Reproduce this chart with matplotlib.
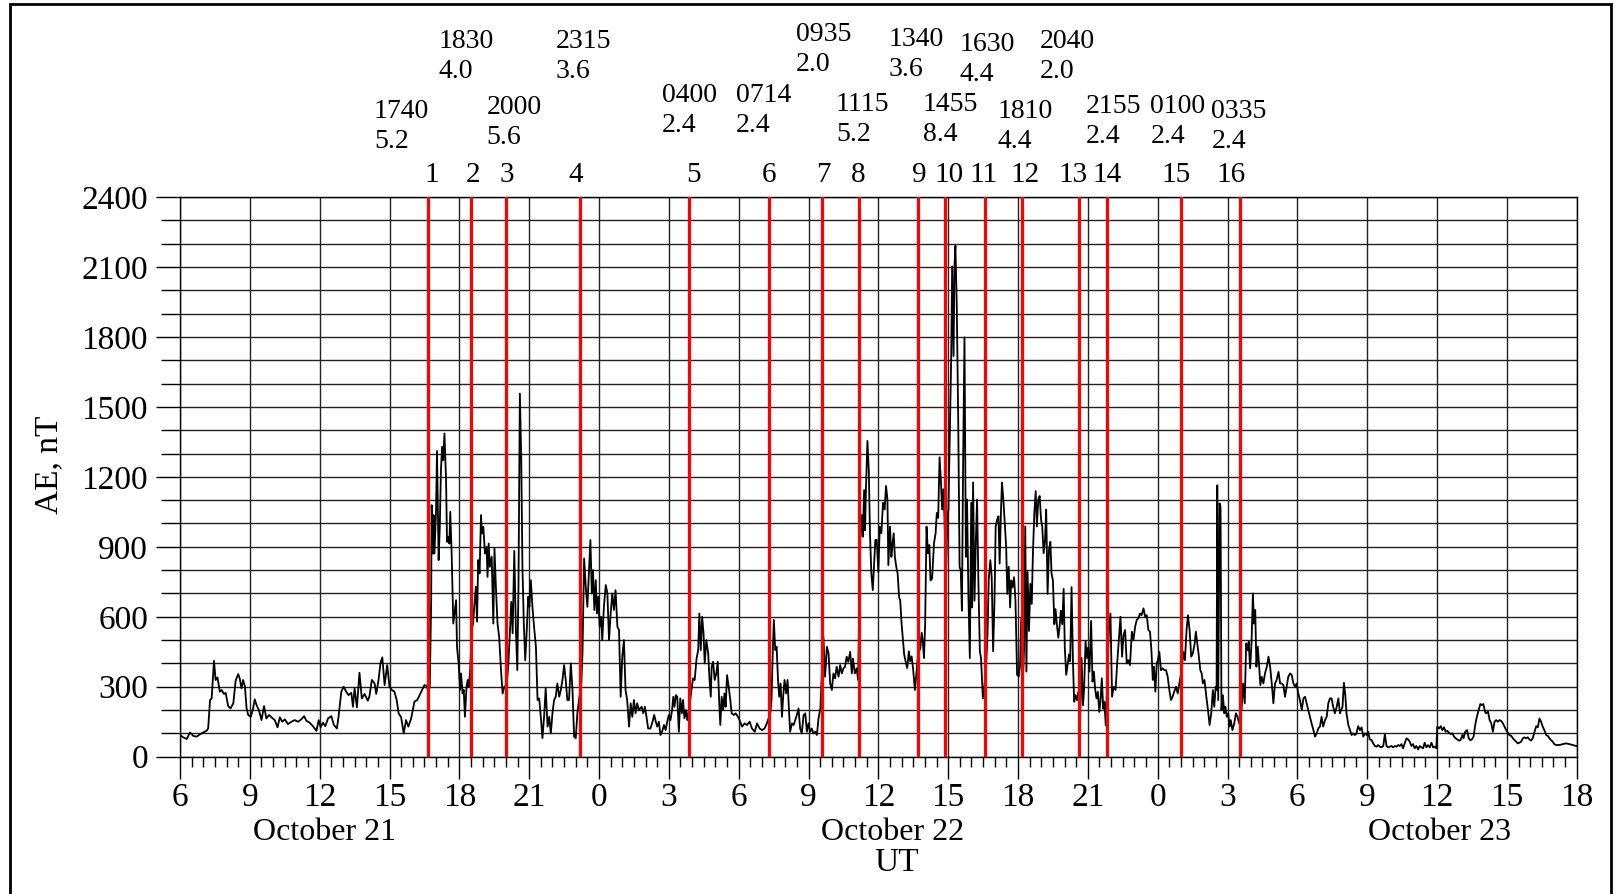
import matplotlib
matplotlib.use("Agg")
import matplotlib.pyplot as plt
from matplotlib.ticker import MultipleLocator, FixedLocator
from matplotlib.transforms import blended_transform_factory
from matplotlib.patches import Rectangle

# AE index, (hour of day UT, nT)
oct21 = [(6.00, 93), (6.14, 83), (6.29, 76), (6.43, 104), (6.57, 89), (6.71, 86), (6.86, 96), (7.00, 104),
         (7.14, 111), (7.21, 121), (7.29, 243), (7.36, 250), (7.46, 411), (7.53, 329), (7.61, 340), (7.71, 279),
         (7.79, 286), (7.89, 269), (7.96, 274), (8.07, 217), (8.17, 207), (8.29, 229), (8.39, 326), (8.50, 354),
         (8.57, 334), (8.64, 293), (8.71, 329), (8.79, 300), (8.86, 207), (8.93, 179), (9.04, 171), (9.14, 207),
         (9.21, 246), (9.29, 221), (9.39, 200), (9.50, 157), (9.61, 217), (9.71, 164), (9.83, 179), (9.93, 169),
         (10.07, 157), (10.19, 126), (10.29, 169), (10.39, 150), (10.50, 160), (10.64, 140), (10.79, 150),
         (10.93, 157), (11.07, 150), (11.21, 160), (11.33, 174), (11.43, 154), (11.57, 146), (11.71, 131),
         (11.86, 111), (11.96, 157), (12.04, 126), (12.14, 146), (12.24, 131), (12.36, 164), (12.50, 174),
         (12.61, 136), (12.74, 121), (12.81, 171), (12.93, 279), (13.03, 300), (13.14, 279), (13.24, 264),
         (13.36, 274), (13.43, 214), (13.50, 293), (13.60, 211), (13.71, 360), (13.81, 250), (13.93, 269),
         (14.07, 240), (14.14, 260), (14.24, 329), (14.36, 314), (14.43, 269), (14.53, 329), (14.61, 400),
         (14.69, 426), (14.79, 307), (14.90, 393), (15.00, 300), (15.10, 286), (15.21, 279), (15.31, 243),
         (15.39, 186), (15.50, 169), (15.61, 100), (15.71, 157), (15.81, 129), (15.93, 164),
         (16.07, 236), (16.19, 243), (16.29, 264), (16.39, 286), (16.50, 307), (16.60, 303), (16.67, 279),
         (16.73, 300), (16.79, 671), (16.81, 1079), (16.87, 871), (16.90, 1036), (16.93, 871), (17.00, 1057),
         (17.04, 1311), (17.11, 843), (17.16, 986), (17.21, 1229), (17.26, 1329), (17.31, 1271), (17.36, 1386),
         (17.43, 1186), (17.47, 921), (17.53, 943), (17.57, 914), (17.61, 1050), (17.67, 871), (17.74, 571),
         (17.79, 614), (17.86, 671), (17.90, 471), (17.97, 400), (18.03, 286), (18.07, 357), (18.14, 271),
         (18.19, 286), (18.24, 171), (18.31, 300), (18.36, 329), (18.40, 300), (18.46, 357), (18.53, 543),
         (18.59, 571), (18.64, 643), (18.71, 729), (18.76, 579), (18.81, 843), (18.87, 786), (18.93, 1036),
         (18.97, 957), (19.03, 986), (19.10, 871), (19.17, 900), (19.21, 771), (19.26, 914), (19.31, 814),
         (19.39, 857), (19.46, 571), (19.51, 893), (19.57, 729), (19.64, 571), (19.71, 514), (19.79, 371),
         (19.86, 271), (19.93, 300), (20.03, 307), (20.10, 386), (20.17, 529), (20.23, 664), (20.29, 529),
         (20.36, 883), (20.43, 543), (20.49, 371), (20.54, 729), (20.60, 1557), (20.66, 1271), (20.71, 814),
         (20.77, 571), (20.83, 414), (20.89, 529), (20.96, 686), (21.01, 643), (21.07, 757), (21.14, 643),
         (21.21, 557), (21.29, 471), (21.36, 243), (21.43, 250), (21.50, 171), (21.57, 79), (21.64, 171),
         (21.71, 293), (21.79, 129), (21.86, 171), (21.93, 100), (22.00, 186), (22.07, 243), (22.14, 257),
         (22.21, 314), (22.29, 257), (22.36, 286), (22.43, 329), (22.50, 393), (22.57, 329), (22.64, 243),
         (22.71, 243), (22.79, 400), (22.86, 286), (22.93, 86), (23.00, 79), (23.07, 186), (23.14, 243),
         (23.24, 314), (23.29, 443), (23.36, 850), (23.43, 729), (23.50, 643), (23.57, 800), (23.63, 929),
         (23.69, 700), (23.74, 800), (23.80, 629), (23.86, 757), (23.91, 614), (23.97, 686)]

oct22 = [(0.03, 557), (0.09, 600), (0.14, 500), (0.21, 643), (0.29, 736), (0.36, 700), (0.43, 500), (0.50, 614),
         (0.57, 700), (0.64, 629), (0.71, 714), (0.79, 557), (0.86, 543), (0.93, 257), (1.00, 429), (1.07, 500),
         (1.14, 286), (1.21, 243), (1.29, 129), (1.36, 229), (1.43, 171), (1.50, 243), (1.57, 186), (1.64, 229),
         (1.71, 200), (1.83, 214), (1.90, 186), (1.97, 214), (2.04, 171), (2.11, 121), (2.21, 121), (2.30, 150),
         (2.37, 179), (2.44, 150), (2.50, 129), (2.57, 150), (2.64, 93), (2.71, 107), (2.79, 136), (2.86, 114),
         (2.93, 150), (3.00, 179), (3.07, 157), (3.14, 200), (3.19, 257), (3.24, 214), (3.30, 264), (3.36, 257),
         (3.43, 107), (3.49, 250), (3.56, 186), (3.61, 243), (3.67, 164), (3.73, 200), (3.79, 157), (3.90, 229),
         (3.97, 286), (4.04, 336), (4.11, 329), (4.19, 421), (4.26, 457), (4.31, 614), (4.37, 457), (4.43, 600),
         (4.49, 529), (4.54, 400), (4.61, 500), (4.69, 443), (4.74, 343), (4.80, 257), (4.84, 386), (4.90, 407),
         (4.97, 329), (5.04, 357), (5.10, 407), (5.16, 243), (5.21, 136), (5.27, 257), (5.33, 200), (5.39, 271),
         (5.44, 214), (5.50, 350), (5.57, 300), (5.64, 243), (5.70, 186), (5.79, 179), (5.87, 186), (5.97, 171),
         (6.04, 157), (6.14, 129), (6.26, 143), (6.36, 136), (6.47, 150), (6.57, 121), (6.69, 107), (6.79, 143),
         (6.90, 121), (7.01, 114), (7.11, 121), (7.21, 143), (7.36, 186), (7.41, 243), (7.47, 471), (7.51, 586),
         (7.57, 457), (7.63, 471), (7.69, 329), (7.74, 257), (7.80, 314), (7.86, 171), (7.91, 257), (7.97, 329),
         (8.04, 271), (8.10, 329), (8.16, 200), (8.21, 107), (8.29, 143), (8.36, 136), (8.43, 157), (8.50, 179),
         (8.57, 207), (8.64, 121), (8.71, 100), (8.79, 179), (8.86, 186), (8.93, 107), (9.00, 143), (9.07, 107),
         (9.14, 121), (9.21, 100), (9.29, 107), (9.36, 93), (9.43, 164), (9.51, 207), (9.64, 514), (9.71, 343),
         (9.79, 471), (9.86, 443), (9.93, 314), (10.00, 286), (10.07, 357), (10.14, 336), (10.21, 386),
         (10.29, 343), (10.36, 393), (10.43, 357), (10.50, 379), (10.57, 386), (10.64, 429), (10.71, 407),
         (10.79, 450), (10.86, 357), (10.91, 421), (10.99, 357), (11.07, 379), (11.13, 329), (11.23, 957),
         (11.29, 1036), (11.33, 943), (11.39, 1143), (11.43, 971), (11.47, 1157), (11.53, 1354), (11.59, 1229),
         (11.64, 957), (11.70, 786), (11.76, 714), (11.81, 814), (11.87, 929), (11.93, 930), (12.00, 792),
         (12.06, 987), (12.13, 958), (12.20, 1089), (12.27, 1060), (12.33, 1161), (12.39, 1103), (12.43, 821),
         (12.50, 987), (12.56, 857), (12.60, 901), (12.66, 958), (12.71, 857), (12.77, 814), (12.83, 785),
         (12.89, 684), (12.94, 669), (13.00, 568), (13.06, 495), (13.11, 438), (13.17, 409), (13.24, 380),
         (13.31, 452), (13.37, 409), (13.43, 430), (13.49, 380), (13.57, 286), (13.63, 351), (13.74, 481),
         (13.80, 459), (13.86, 532), (13.91, 495), (13.96, 423), (14.01, 568), (14.07, 987), (14.13, 872),
         (14.19, 908), (14.24, 756), (14.31, 764), (14.39, 915), (14.46, 958), (14.51, 1045), (14.57, 1024),
         (14.63, 1284), (14.69, 1176), (14.74, 1060), (14.79, 1147), (14.84, 1031), (14.90, 741), (14.96, 1016),
         (15.01, 1060), (15.07, 1393), (15.13, 1711), (15.17, 2102), (15.23, 1718), (15.27, 2102), (15.31, 2191),
         (15.37, 1928), (15.43, 1450), (15.49, 814), (15.54, 799), (15.59, 626), (15.64, 1248), (15.70, 1798),
         (15.76, 857), (15.81, 1103), (15.87, 684), (15.93, 423), (15.99, 1089), (16.03, 640), (16.07, 1176),
         (16.13, 669), (16.19, 930), (16.24, 1103), (16.30, 741), (16.36, 452), (16.41, 423), (16.49, 250),
         (16.56, 307), (16.63, 394), (16.69, 524), (16.74, 756), (16.81, 843), (16.87, 770), (16.93, 452),
         (16.99, 669), (17.04, 987), (17.10, 1016), (17.16, 1031), (17.21, 828), (17.27, 1060), (17.31, 1176),
         (17.37, 1103), (17.43, 1002), (17.49, 901), (17.54, 698), (17.60, 814), (17.66, 640), (17.71, 756),
         (17.77, 727), (17.83, 770), (17.89, 669), (17.96, 351), (18.03, 344), (18.09, 394), (18.14, 597),
         (18.20, 293), (18.26, 467), (18.31, 987), (18.36, 365), (18.41, 792), (18.47, 539), (18.53, 741),
         (18.59, 655), (18.64, 872), (18.70, 1045), (18.76, 1139), (18.81, 987), (18.87, 1103), (18.93, 1118),
         (18.99, 1016), (19.04, 987), (19.10, 872), (19.16, 930), (19.21, 1060), (19.27, 698), (19.33, 886),
         (19.39, 922), (19.44, 785), (19.50, 756), (19.56, 568), (19.61, 633), (19.67, 568), (19.73, 510),
         (19.79, 561), (19.84, 626), (19.90, 568), (19.96, 720), (20.01, 467), (20.07, 351), (20.13, 394),
         (20.19, 438), (20.24, 409), (20.30, 727), (20.36, 409), (20.41, 235), (20.47, 264), (20.53, 242),
         (20.59, 278), (20.67, 163), (20.73, 423), (20.79, 221), (20.84, 293), (20.90, 495), (20.96, 423),
         (21.01, 467), (21.07, 365), (21.14, 582), (21.20, 322), (21.26, 365), (21.31, 293), (21.37, 250),
         (21.43, 278), (21.49, 192), (21.54, 235), (21.60, 336), (21.66, 206), (21.71, 235), (21.77, 134),
         (21.90, 536), (21.97, 614), (22.04, 257), (22.11, 300), (22.19, 286), (22.26, 400), (22.33, 500),
         (22.40, 600), (22.47, 429), (22.53, 521), (22.60, 543), (22.67, 400), (22.74, 414), (22.81, 393),
         (22.89, 536), (22.96, 500), (23.03, 557), (23.10, 586), (23.17, 593), (23.24, 614), (23.31, 607),
         (23.39, 636), (23.46, 600), (23.53, 607), (23.60, 543), (23.67, 536), (23.73, 457), (23.79, 329),
         (23.84, 386), (23.90, 279), (23.96, 400)]

oct23 = [(0.01, 414), (0.07, 450), (0.14, 371), (0.21, 379), (0.29, 371), (0.36, 371), (0.43, 343), (0.50, 286),
         (0.57, 243), (0.64, 257), (0.71, 279), (0.79, 300), (0.86, 271), (0.93, 314), (1.03, 371), (1.10, 450),
         (1.17, 414), (1.24, 543), (1.30, 607), (1.37, 543), (1.44, 429), (1.51, 443), (1.59, 486), (1.64, 536),
         (1.70, 486), (1.77, 429), (1.83, 371), (1.89, 357), (1.94, 314), (2.01, 329), (2.09, 257), (2.16, 200),
         (2.23, 136), (2.30, 186), (2.37, 286), (2.43, 214), (2.49, 300), (2.53, 286), (2.56, 1164), (2.60, 243),
         (2.66, 1086), (2.70, 1071), (2.74, 200), (2.80, 264), (2.86, 186), (2.91, 214), (2.97, 171), (3.03, 186),
         (3.09, 129), (3.14, 157), (3.21, 114), (3.29, 143), (3.36, 186), (3.43, 171), (3.50, 143), (3.60, 200),
         (3.67, 314), (3.74, 229), (3.80, 486), (3.86, 457), (3.91, 493), (3.97, 379), (4.03, 486), (4.09, 700),
         (4.14, 571), (4.19, 629), (4.24, 386), (4.30, 471), (4.36, 386), (4.41, 307), (4.47, 343), (4.54, 314),
         (4.61, 357), (4.69, 386), (4.76, 429), (4.83, 386), (4.90, 314), (4.97, 229), (5.04, 314), (5.11, 329),
         (5.19, 364), (5.26, 314), (5.33, 314), (5.40, 307), (5.47, 257), (5.54, 300), (5.61, 343), (5.69, 357),
         (5.76, 350), (5.83, 314), (5.90, 300), (5.97, 314), (6.04, 271), (6.11, 243), (6.19, 200), (6.26, 250),
         (6.33, 257), (6.40, 229), (6.47, 200), (6.54, 171), (6.61, 143), (6.69, 114), (6.76, 86), (6.83, 100),
         (6.90, 121), (6.97, 129), (7.04, 171), (7.11, 129), (7.19, 157), (7.26, 171), (7.33, 229), (7.40, 250),
         (7.47, 250), (7.54, 214), (7.61, 186), (7.69, 214), (7.76, 250), (7.83, 186), (7.94, 214), (8.00, 317),
         (8.06, 264), (8.11, 186), (8.19, 136), (8.26, 114), (8.33, 93), (8.40, 100), (8.47, 93), (8.54, 100),
         (8.61, 131), (8.69, 114), (8.76, 126), (8.83, 86), (8.90, 100), (8.97, 93), (9.04, 107), (9.11, 74),
         (9.19, 71), (9.26, 57), (9.33, 46), (9.40, 43), (9.47, 50), (9.54, 43), (9.61, 40), (9.69, 46),
         (9.76, 97), (9.83, 46), (9.90, 40), (9.97, 43), (10.04, 46), (10.11, 40), (10.19, 46), (10.26, 43),
         (10.33, 50), (10.40, 46), (10.47, 54), (10.54, 36), (10.61, 57), (10.69, 79), (10.76, 74), (10.83, 64),
         (10.90, 46), (10.97, 54), (11.04, 36), (11.11, 46), (11.19, 31), (11.26, 46), (11.33, 40), (11.40, 36),
         (11.47, 60), (11.54, 40), (11.61, 50), (11.69, 40), (11.76, 60), (11.83, 40), (11.90, 43), (11.97, 36),
         (12.01, 129), (12.09, 121), (12.16, 131), (12.23, 114), (12.30, 126), (12.37, 107), (12.44, 111),
         (12.51, 103), (12.59, 97), (12.66, 100), (12.73, 86), (12.80, 79), (12.87, 74), (12.94, 69), (13.01, 71),
         (13.09, 93), (13.14, 79), (13.21, 107), (13.29, 114), (13.36, 79), (13.43, 71), (13.50, 74), (13.57, 86),
         (13.64, 136), (13.71, 171), (13.79, 200), (13.86, 226), (13.93, 221), (13.99, 226), (14.06, 193),
         (14.11, 186), (14.19, 193), (14.26, 157), (14.33, 143), (14.40, 107), (14.47, 150), (14.54, 157),
         (14.61, 150), (14.69, 157), (14.76, 153), (14.83, 143), (14.90, 129), (14.97, 114), (15.04, 103),
         (15.11, 93), (15.19, 89), (15.26, 79), (15.33, 71), (15.40, 64), (15.47, 57), (15.54, 60), (15.61, 64),
         (15.69, 79), (15.76, 83), (15.83, 79), (15.90, 83), (15.97, 74), (16.04, 69), (16.11, 79), (16.19, 107),
         (16.26, 131), (16.33, 126), (16.40, 164), (16.47, 150), (16.54, 129), (16.61, 114), (16.69, 93),
         (16.76, 89), (16.83, 79), (16.90, 71), (16.97, 64), (17.04, 54), (17.11, 50), (17.26, 50), (17.40, 54),
         (17.54, 57), (17.69, 54), (17.83, 50), (17.97, 46), (18.00, 46)]

# events: red line positions (hours since Oct 21 00 UT) and their labels
event_hours = [16.64, 18.50, 20.00, 23.20, 27.87, 31.29, 33.57, 35.17,
               37.69, 38.87, 40.57, 42.17, 44.63, 45.84, 49.00, 51.54]
event_num = [str(i) for i in range(1, 17)]
event_time = ['1740', '1830', '2000', '2315', '0400', '0714', '0935', '1115',
              '1340', '1455', '1630', '1810', '2040', '2155', '0100', '0335']
event_val = ['5.2', '4.0', '5.6', '3.6', '2.4', '2.4', '2.0', '5.2',
             '3.6', '8.4', '4.4', '4.4', '2.0', '2.4', '2.4', '2.4']

# where the labels sit (x in hours, y in axes fraction)
num_x = [16.81, 18.58, 20.05, 23.01, 28.06, 31.30, 33.65, 35.15,
         37.77, 39.05, 40.51, 42.29, 44.37, 45.83, 48.80, 51.15]
lab_x = [14.33, 17.12, 19.16, 22.13, 26.69, 29.88, 32.45, 34.18,
         36.44, 37.90, 39.50, 41.13, 42.95, 44.90, 47.69, 50.31]
lab_y = [1.153, 1.278, 1.160, 1.278, 1.181, 1.181, 1.290, 1.166,
         1.282, 1.166, 1.273, 1.153, 1.278, 1.162, 1.162, 1.153]

days = ['October 21', 'October 22', 'October 23']
day_label_x = [12.2, 36.6, 60.1]

plt.rcParams['font.family'] = ['Liberation Serif', 'DejaVu Serif']

fig = plt.figure(figsize=(16.19, 8.94), dpi=100)
ax = fig.add_axes([180 / 1619, 137.3 / 894, 1396.7 / 1619, 559.7 / 894])

t, ae = [], []
for offset, seg in [(0, oct21), (24, oct22), (48, oct23)]:
    for h, v in seg:
        t.append(offset + h)
        ae.append(v)
ax.plot(t, ae, color='black', lw=1.3, zorder=3)

for h in event_hours:
    ax.axvline(h, color='red', lw=2.3, zorder=4)

ax.set_xlim(6, 66)
ax.set_ylim(0, 2400)
xt = list(range(6, 67, 3))
ax.xaxis.set_major_locator(FixedLocator(xt))
ax.set_xticklabels([str(h % 24) for h in xt])
ax.xaxis.set_minor_locator(MultipleLocator(0.5))
ax.yaxis.set_major_locator(MultipleLocator(300))
ax.yaxis.set_minor_locator(MultipleLocator(100))

ax.tick_params(axis='x', which='major', length=16, width=1, pad=2.5, labelsize=24)
ax.tick_params(axis='x', which='minor', length=7, width=1)
ax.tick_params(axis='y', which='major', length=17, width=1, pad=6, labelsize=24)
ax.tick_params(axis='y', which='minor', length=14, width=1)

ax.yaxis.grid(True, which='both', color='#222222', lw=1.0)
ax.xaxis.grid(True, which='major', color='#222222', lw=1.0)
ax.set_axisbelow(True)
for s in ax.spines.values():
    s.set_linewidth(1.0)

ax.set_ylabel('AE, nT', fontsize=24)
ax.yaxis.set_label_coords(-0.083, 0.522)

trans = blended_transform_factory(ax.transData, ax.transAxes)
for i in range(len(event_hours)):
    ax.text(num_x[i], 1.0385, event_num[i], transform=trans, ha='center', va='center', fontsize=21)
    ax.text(lab_x[i], lab_y[i], event_time[i], transform=trans, ha='left', va='center', fontsize=20)
    ax.text(lab_x[i], lab_y[i] - 0.0535, event_val[i], transform=trans, ha='left', va='center', fontsize=20)

for x, d in zip(day_label_x, days):
    ax.text(x, -0.136, d, transform=trans, ha='center', va='center', fontsize=23)
ax.text(36.8, -0.19, 'UT', transform=trans, ha='center', va='center', fontsize=24)

fig.patches.append(Rectangle((10 / 1619, -0.05), 1601 / 1619, 1.05 - 4 / 894,
                             transform=fig.transFigure, fill=False, lw=2, edgecolor='black'))

fig.savefig('out.png', dpi=100)
